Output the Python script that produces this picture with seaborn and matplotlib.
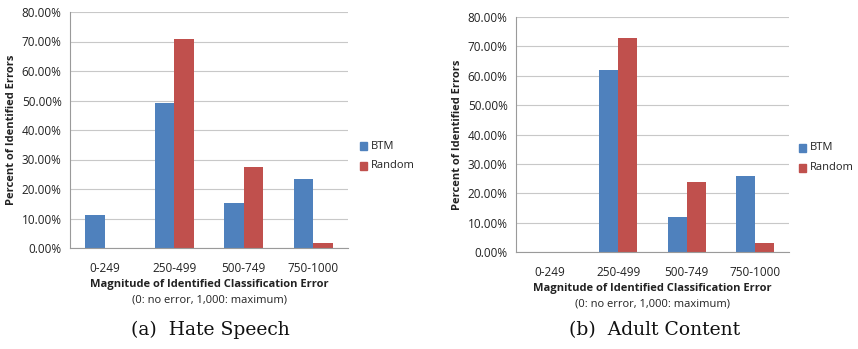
import numpy as np
import pandas as pd
import matplotlib
matplotlib.use("Agg")
import matplotlib.pyplot as plt
import seaborn as sns
from matplotlib.ticker import FuncFormatter, FixedLocator

sns.set_style("white")
plt.rcParams['font.family'] = ['Open Sans', 'DejaVu Sans']

bins = ["0-249", "250-499", "500-749", "750-1000"]
series = ["BTM", "Random"]
hate_btm = [11.3, 49.3, 15.4, 23.5]
hate_random = [0.0, 70.8, 27.4, 1.6]
adult_btm = [0.0, 62.1, 12.0, 26.0]
adult_random = [0.0, 73.0, 24.0, 3.2]

colors = {"BTM": "#4F81BD", "Random": "#C0504D"}


def make_df(btm, rnd):
    return pd.DataFrame({
        "bin": bins * 2,
        "series": ["BTM"] * 4 + ["Random"] * 4,
        "value": btm + rnd,
    })


fig = plt.figure(figsize=(8.58, 3.49), dpi=100)
W, H = 858, 349
fs = 8

panels = [
    (make_df(hate_btm, hate_random), (70, 12, 348, 248), (360, 146), "(a)  Hate Speech", 210),
    (make_df(adult_btm, adult_random), (516, 17, 789, 252), (799, 148), "(b)  Adult Content", 655),
]

for df, (x0, y0, x1, y1), (lx, ly), cap, cx in panels:
    ax = fig.add_axes([x0 / W, 1 - y1 / H, (x1 - x0) / W, (y1 - y0) / H])
    sns.barplot(data=df, x="bin", y="value", hue="series", palette=colors,
                width=0.56, saturation=1, linewidth=0, ax=ax, legend=False)
    ax.set_ylim(0, 80)
    ax.set_xlim(-0.5, 3.5)
    ax.yaxis.set_major_locator(FixedLocator(np.arange(0, 81, 10)))
    ax.yaxis.set_major_formatter(FuncFormatter(lambda v, p: f"{v:.2f}%"))
    ax.grid(axis="y", color="#C8C8C8", linewidth=0.8)
    ax.set_axisbelow(True)
    for s in ["top", "right"]:
        ax.spines[s].set_visible(False)
    for s in ["left", "bottom"]:
        ax.spines[s].set_color("#9A9A9A")
        ax.spines[s].set_linewidth(0.8)
    ax.tick_params(axis="y", labelsize=fs + 0.5, length=0, pad=6, colors="#222222")
    ax.tick_params(axis="x", labelsize=fs + 0.5, length=0, pad=10, colors="#222222")
    ax.set_xticks(range(4), bins)
    ax.set_xticks(np.arange(-0.5, 4, 1), minor=True)
    ax.tick_params(axis="x", which="minor", length=4, color="#9A9A9A", direction="out")
    ax.set_xlabel("")
    ax.set_ylabel("Percent of Identified Errors", fontsize=fs, fontweight="bold",
                  color="#222222", labelpad=3)

    xc = (x0 + x1) / 2
    fig.text(xc / W, 1 - (y1 + 37) / H, "Magnitude of Identified Classification Error",
             ha="center", va="center", fontsize=fs, fontweight="bold", color="#222222")
    fig.text(xc / W, 1 - (y1 + 52) / H, "(0: no error, 1,000: maximum)",
             ha="center", va="center", fontsize=fs, color="#222222")

    for i, s in enumerate(series):
        yy = ly + i * 20
        fig.patches.append(plt.Rectangle(((lx) / W, 1 - (yy + 4) / H), 7 / W, 8 / H,
                                         transform=fig.transFigure, color=colors[s]))
        fig.text((lx + 11) / W, 1 - yy / H, s, ha="left", va="center",
                 fontsize=fs, color="#222222")

    fig.text(cx / W, 1 - 330 / H, cap, ha="center", va="center",
             fontsize=13.5, family=["DejaVu Serif"], color="#111111")

fig.savefig("out.png", dpi=100)
